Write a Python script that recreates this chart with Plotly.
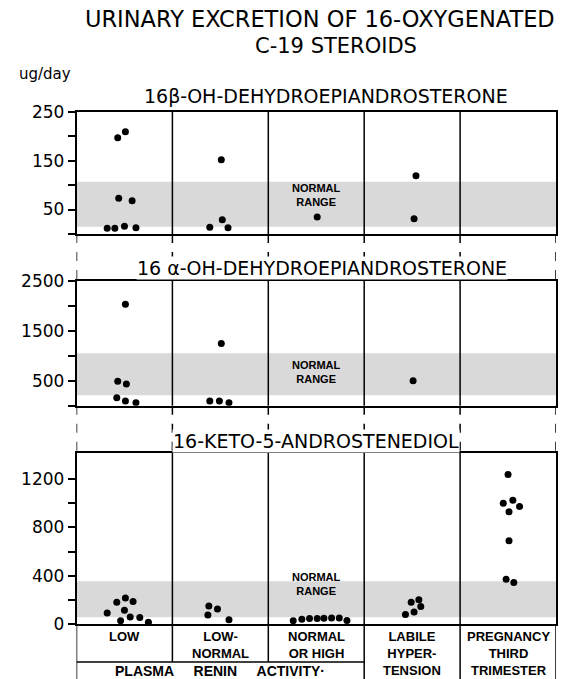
import plotly.graph_objects as go

# ---------------- data ----------------
categories = ["LOW", "LOW-<br>NORMAL", "NORMAL<br>OR HIGH",
              "LABILE<br>HYPER-<br>TENSION", "PREGNANCY<br>THIRD<br>TRIMESTER"]
group_label = "PLASMA\u00a0\u00a0\u00a0\u00a0\u00a0RENIN\u00a0\u00a0\u00a0\u00a0\u00a0ACTIVITY\u00b7"

panel_titles = ["16\u03b2-OH-DEHYDROEPIANDROSTERONE",
                "16\u00a0\u03b1-OH-DEHYDROEPIANDROSTERONE",
                "16-KETO-5-ANDROSTENEDIOL"]

# 16beta-OH-DHEA (ug/day) per category, with horizontal jitter within column
beta_vals = [[209, 197, 73, 68, 12, 12, 16, 13],
             [152, 29, 14, 13],
             [35],
             [119, 31],
             []]
beta_jit = [[0.51, 0.43, 0.44, 0.58, 0.32, 0.40, 0.50, 0.62],
            [0.51, 0.52, 0.39, 0.58],
            [0.51],
            [0.54, 0.52],
            []]
beta_normal = [15, 107]

# 16alpha-OH-DHEA
alpha_vals = [[2034, 488, 434, 160, 94, 60],
              [1248, 94, 94, 60],
              [],
              [500],
              []]
alpha_jit = [[0.51, 0.43, 0.52, 0.42, 0.51, 0.62],
             [0.51, 0.39, 0.49, 0.59],
             [],
             [0.51],
             []]
alpha_normal = [210, 1050]

# 16-keto-5-androstenediol
keto_vals = [[181, 216, 186, 92, 113, 27, 59, 54, 14],
             [150, 125, 75, 35],
             [27, 40, 45, 46, 48, 50, 50, 30],
             [181, 200, 146, 100, 78],
             [1240, 1000, 1025, 975, 930, 690, 370, 345]]
keto_jit = [[0.42, 0.51, 0.59, 0.32, 0.50, 0.46, 0.56, 0.66, 0.75],
            [0.38, 0.47, 0.37, 0.59],
            [0.26, 0.35, 0.43, 0.51, 0.58, 0.66, 0.74, 0.82],
            [0.49, 0.57, 0.59, 0.52, 0.43],
            [0.50, 0.45, 0.55, 0.62, 0.51, 0.51, 0.48, 0.56]]
keto_normal = [55, 355]

y_ranges = [250, 2500, 1420]
y_ticks = [[0, 50, 100, 150, 200, 250],
           [0, 500, 1000, 1500, 2000, 2500],
           [0, 200, 400, 600, 800, 1000, 1200]]
y_ticktext = [["", "50", "", "150", "", "250"],
              ["", "500", "", "1500", "", "2500"],
              ["0", "", "400", "", "800", "", "1200"]]

# ---------------- layout geometry (pixels) ----------------
W, H = 579, 679
L, R = 76.5, 556
panels_px = [(111.7, 234.0), (281.0, 405.7), (452.7, 624.0)]


def fx(p):
    return p / W


def fy(p):
    return 1 - p / H


fig = go.Figure()

all_vals = [beta_vals, alpha_vals, keto_vals]
all_jit = [beta_jit, alpha_jit, keto_jit]
normals = [beta_normal, alpha_normal, keto_normal]

shapes = []
annotations = []
for k in range(3):
    xs, ys = [], []
    for i, (vals, jit) in enumerate(zip(all_vals[k], all_jit[k])):
        xs += [i + j for j in jit]
        ys += vals
    sfx = "" if k == 0 else str(k + 1)
    fig.add_trace(go.Scatter(x=xs, y=ys, mode="markers",
                             marker=dict(size=7, color="black"),
                             xaxis="x" + sfx, yaxis="y" + sfx,
                             showlegend=False, hoverinfo="y"))
    top, bot = panels_px[k]
    fig.update_layout(**{
        "xaxis" + sfx: dict(domain=[fx(L), fx(R)], range=[0, 5], anchor="y" + sfx,
                            showline=True, mirror=True, linecolor="black", linewidth=1.5,
                            showticklabels=False, ticks="", showgrid=False, zeroline=False,
                            fixedrange=True, automargin=False),
        "yaxis" + sfx: dict(domain=[fy(bot), fy(top)], range=[0, y_ranges[k]],
                            anchor="x" + sfx,
                            showline=True, mirror=True, linecolor="black", linewidth=1.5,
                            tickvals=y_ticks[k], ticktext=y_ticktext[k],
                            ticks="outside", ticklen=7, tickwidth=1.5, tickcolor="black",
                            tickfont=dict(family="DejaVu Sans", size=17, color="black"),
                            showgrid=False, zeroline=False, fixedrange=True,
                            automargin=False),
    })
    # normal range shading
    shapes.append(dict(type="rect", xref="x" + sfx, yref="y" + sfx,
                       x0=0, x1=5, y0=normals[k][0], y1=normals[k][1],
                       fillcolor="#d9d9d9", line=dict(width=0), layer="below"))
    # column dividers
    for c in range(1, 5):
        shapes.append(dict(type="line", xref="x" + sfx, yref="y" + sfx,
                           x0=c, x1=c, y0=0, y1=y_ranges[k],
                           line=dict(color="black", width=1.5)))
    # NORMAL RANGE label
    annotations.append(dict(xref="x" + sfx, yref="paper", x=2.5,
                            y=fy([194.9, 372.0, 584.3][k]),
                            xanchor="center", yanchor="middle",
                            text="<b>NORMAL<br>RANGE</b>", showarrow=False,
                            font=dict(family="Liberation Sans", size=11, color="black")))

# dashed connectors between panels
for (a, b) in [(panels_px[0][1], panels_px[1][0]), (panels_px[1][1], panels_px[2][0])]:
    for c in range(0, 6):
        shapes.append(dict(type="line", xref="x3", yref="paper",
                           x0=c, x1=c, y0=fy(a), y1=fy(b),
                           line=dict(color="black", width=1.5, dash="dash")))

# bottom label table
bot = panels_px[2][1]
for c in range(0, 6):
    end = 662 if c in (1, 2) else H
    shapes.append(dict(type="line", xref="x3", yref="paper",
                       x0=c, x1=c, y0=fy(bot), y1=fy(end),
                       line=dict(color="black", width=1.5)))
shapes.append(dict(type="line", xref="x3", yref="paper", x0=0, x1=3,
                   y0=fy(662), y1=fy(662), line=dict(color="black", width=1.5)))

for i, cat in enumerate(categories):
    annotations.append(dict(xref="x3", yref="paper", x=i + 0.5, y=fy(627),
                            xanchor="center", yanchor="top",
                            text="<b>" + cat + "</b>", showarrow=False,
                            font=dict(family="Liberation Sans", size=13, color="black")))
annotations.append(dict(xref="x3", yref="paper", x=1.5, y=fy(671),
                        xanchor="center", yanchor="middle",
                        text="<b>" + group_label + "</b>", showarrow=False,
                        font=dict(family="Liberation Sans", size=14, color="black")))

# panel titles
title_y = [96, 268, 441]
title_x = [326, 322, 316]
for k in range(3):
    annotations.append(dict(xref="paper", yref="paper", x=fx(title_x[k]), y=fy(title_y[k]),
                            xanchor="center", yanchor="middle",
                            text=panel_titles[k], showarrow=False, bgcolor="white",
                            borderpad=0,
                            font=dict(family="DejaVu Sans", size=19, color="black")))

# main title and unit
annotations.append(dict(xref="paper", yref="paper", x=fx(320), y=fy(19),
                        xanchor="center", yanchor="middle",
                        text="URINARY EXCRETION OF 16-OXYGENATED", showarrow=False,
                        font=dict(family="DejaVu Sans", size=22.5, color="black")))
annotations.append(dict(xref="paper", yref="paper", x=fx(336), y=fy(46),
                        xanchor="center", yanchor="middle",
                        text="C-19 STEROIDS", showarrow=False,
                        font=dict(family="DejaVu Sans", size=21, color="black")))
annotations.append(dict(xref="paper", yref="paper", x=fx(17), y=fy(74),
                        xanchor="left", yanchor="middle", text="ug/day", showarrow=False,
                        font=dict(family="DejaVu Sans", size=15, color="black")))

fig.update_layout(width=W, height=H, margin=dict(l=0, r=0, t=0, b=0, autoexpand=False),
                  paper_bgcolor="white", plot_bgcolor="white",
                  shapes=shapes, annotations=annotations)

fig.write_html("out.html", config={"displayModeBar": False},
               post_script="document.body.style.margin='0';"
                           "document.body.style.overflow='hidden';")
